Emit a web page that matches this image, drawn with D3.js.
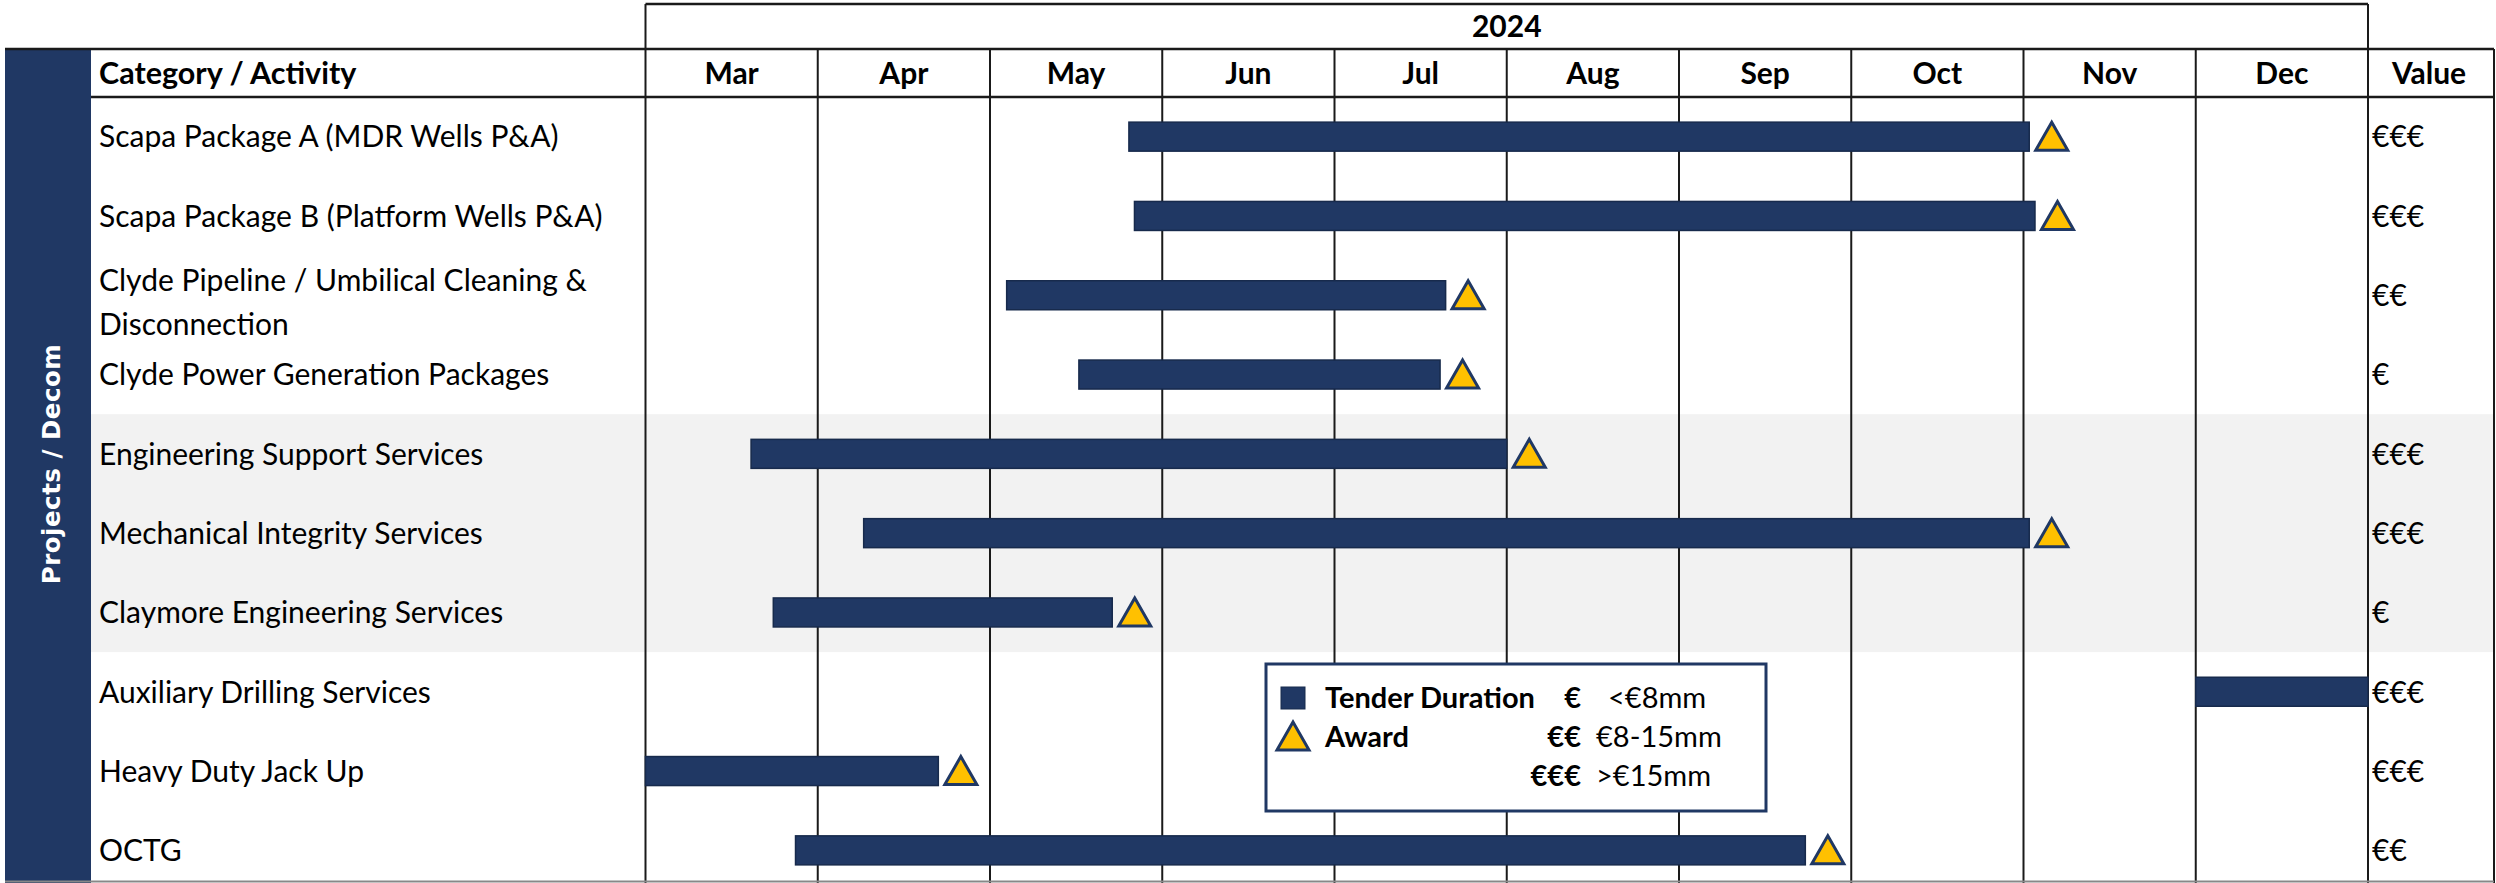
<!DOCTYPE html>
<html>
<head>
<meta charset="utf-8">
<style>
  body { margin: 0; background: #fff; }
  text { font-family: Lato, "Open Sans", sans-serif; fill: #000; }
</style>
</head>
<body>
<svg width="2496" height="883"></svg>
<script src="https://d3js.org/d3.v7.min.js"></script>
<script>

    // chart data
    var activities = [
        ["Scapa Package A (MDR Wells P&A)"],
        ["Scapa Package B (Platform Wells P&A)"],
        ["Clyde Pipeline / Umbilical Cleaning &", "Disconnection"],
        ["Clyde Power Generation Packages"],
        ["Engineering Support Services"],
        ["Mechanical Integrity Services"],
        ["Claymore Engineering Services"],
        ["Auxiliary Drilling Services"],
        ["Heavy Duty Jack Up"],
        ["OCTG"]
    ];
    var tenderStart = ["2024-05-26", "2024-05-27", "2024-05-04", "2024-05-17", "2024-03-20",
                       "2024-04-09", "2024-03-24", "2024-12-01", "2024-03-01", "2024-03-28"];
    var tenderEnd   = ["2024-11-02", "2024-11-03", "2024-07-21", "2024-07-20", "2024-08-01",
                       "2024-11-02", "2024-05-23", "2025-01-01", "2024-04-22", "2024-09-23"];
    var hasAward    = [true, true, true, true, true, true, true, false, true, true];
    var values      = ["€€€", "€€€", "€€", "€", "€€€", "€€€", "€", "€€€", "€€€", "€€"];
    var months      = ["Mar", "Apr", "May", "Jun", "Jul", "Aug", "Sep", "Oct", "Nov", "Dec"];
    var year        = "2024";
    var groupName   = "Projects / Decom";
    var shadedRows  = [4, 5, 6];
    var legendKeys  = ["Tender Duration", "Award"];
    var valueBands  = ["€", "€€", "€€€"];
    var valueRanges = ["<€8mm", "€8-15mm", ">€15mm"];

    var navy = "#203864", gold = "#FFC000", line = "#1a1a1a";
    var fs = "30px";

    var svg = d3.select("svg"),
        W = +svg.attr("width"),
        H = +svg.attr("height");

    var parse = d3.timeParse("%Y-%m-%d"),
        origin = new Date(2024, 2, 1);

    // months since 1 Mar, equal-width month columns like the spreadsheet
    function monthPos(s) {
        var d = parse(s),
            m0 = d3.timeMonth.floor(d),
            m1 = d3.timeMonth.offset(m0, 1);
        return d3.timeMonth.count(origin, m0) + (d - m0) / (m1 - m0);
    }

    var x = d3.scaleLinear().domain([0, months.length]).range([645.5, 2368]);
    var y = d3.scaleBand().domain(d3.range(activities.length)).range([97, 890]);

    var left = 5, bandRight = 91, right = 2494,
        yearTop = 4, headTop = 49, headBottom = 97;

    // shaded rows
    svg.append("rect")
        .attr("x", bandRight).attr("y", y(shadedRows[0]))
        .attr("width", right - bandRight)
        .attr("height", y.step() * shadedRows.length)
        .attr("fill", "#f2f2f2");

    // group band
    svg.append("rect")
        .attr("x", left).attr("y", headTop)
        .attr("width", bandRight - left).attr("height", H - headTop)
        .attr("fill", navy);

    svg.append("text")
        .attr("transform", "translate(" + ((left + bandRight) / 2 + 3) + "," + 464 + ") rotate(-90)")
        .attr("text-anchor", "middle")
        .attr("dy", "0.36em")
        .style("font-family", "'DejaVu Sans', Verdana, sans-serif")
        .style("font-weight", "bold")
        .style("font-size", "24.5px")
        .style("letter-spacing", "0.5px")
        .style("fill", "#fff")
        .text(groupName);

    // grid
    var grid = svg.append("g").attr("stroke", line).attr("stroke-width", 2);

    grid.selectAll(".vline")
        .data(d3.range(months.length + 1))
        .enter().append("line")
        .attr("x1", function(d) { return x(d); })
        .attr("x2", function(d) { return x(d); })
        .attr("y1", function(d) { return (d === 0 || d === months.length) ? yearTop : headTop; })
        .attr("y2", H);

    grid.append("line").attr("x1", right).attr("x2", right).attr("y1", headTop).attr("y2", H);

    grid.append("line").attr("x1", x(0)).attr("x2", x(months.length))
        .attr("y1", yearTop).attr("y2", yearTop).attr("stroke-width", 2.5);
    grid.append("line").attr("x1", left).attr("x2", right)
        .attr("y1", headTop).attr("y2", headTop).attr("stroke-width", 2.5);
    grid.append("line").attr("x1", bandRight).attr("x2", right)
        .attr("y1", headBottom).attr("y2", headBottom).attr("stroke-width", 2.5);
    grid.append("line").attr("x1", left).attr("x2", right)
        .attr("y1", H - 1.5).attr("y2", H - 1.5).attr("stroke", "#888").attr("stroke-width", 2);

    // headers
    svg.append("text")
        .attr("x", (x(0) + x(months.length)) / 2).attr("y", (yearTop + headTop) / 2)
        .attr("dy", "0.36em").attr("text-anchor", "middle")
        .style("font-weight", "bold").style("font-size", fs)
        .text(year);

    svg.append("text")
        .attr("x", 99).attr("y", (headTop + headBottom) / 2)
        .attr("dy", "0.36em")
        .style("font-weight", "bold").style("font-size", "30.5px")
        .text("Category / Activity");

    svg.selectAll(".month")
        .data(months)
        .enter().append("text")
        .attr("x", function(d, i) { return x(i + 0.5); })
        .attr("y", (headTop + headBottom) / 2)
        .attr("dy", "0.36em").attr("text-anchor", "middle")
        .style("font-weight", "bold").style("font-size", fs)
        .text(function(d) { return d; });

    svg.append("text")
        .attr("x", (x(months.length) + right) / 2 - 2).attr("y", (headTop + headBottom) / 2)
        .attr("dy", "0.36em").attr("text-anchor", "middle")
        .style("font-weight", "bold").style("font-size", fs)
        .text("Value");

    // row labels
    var labels = svg.selectAll(".label")
        .data(activities)
        .enter().append("text")
        .attr("x", 99)
        .attr("y", function(d, i) { return y(i) + y.bandwidth() / 2; })
        .style("font-size", fs);

    labels.selectAll("tspan")
        .data(function(d) { return d; })
        .enter().append("tspan")
        .attr("x", 99)
        .attr("dy", function(d, j, nodes) {
            var n = nodes.length;
            return j === 0 ? (0.36 - (n - 1) * 0.5) + "em" : "1.45em";
        })
        .text(function(d) { return d; });

    // values
    svg.selectAll(".value")
        .data(values)
        .enter().append("text")
        .attr("x", x(months.length) + 4)
        .attr("y", function(d, i) { return y(i) + y.bandwidth() / 2; })
        .attr("dy", "0.36em")
        .style("font-size", fs)
        .text(function(d) { return d; });

    // tender bars
    var barH = 29;
    svg.selectAll(".bar")
        .data(activities)
        .enter().append("rect")
        .attr("x", function(d, i) { return x(monthPos(tenderStart[i])); })
        .attr("y", function(d, i) { return y(i) + y.bandwidth() / 2 - barH / 2; })
        .attr("width", function(d, i) { return x(monthPos(tenderEnd[i])) - x(monthPos(tenderStart[i])); })
        .attr("height", barH)
        .attr("fill", navy)
        .attr("stroke", "#172a4c")
        .attr("stroke-width", 1.5);

    // award markers
    function tri(cx, bottom) {
        return "M" + (cx - 16) + "," + bottom + "L" + cx + "," + (bottom - 28) + "L" + (cx + 16) + "," + bottom + "Z";
    }

    svg.selectAll(".award")
        .data(d3.range(activities.length).filter(function(i) { return hasAward[i]; }))
        .enter().append("path")
        .attr("d", function(i) {
            return tri(x(monthPos(tenderEnd[i])) + 22.5, y(i) + y.bandwidth() / 2 + barH / 2 - 1);
        })
        .attr("fill", gold)
        .attr("stroke", navy)
        .attr("stroke-width", 3)
        .attr("stroke-linejoin", "miter");

    // legend
    var lg = svg.append("g").attr("transform", "translate(1266,664)");
    lg.append("rect")
        .attr("width", 500).attr("height", 147)
        .attr("fill", "#fff").attr("stroke", navy).attr("stroke-width", 3);

    lg.append("rect")
        .attr("x", 15).attr("y", 23).attr("width", 24).attr("height", 22)
        .attr("fill", navy).attr("stroke", "#172a4c");
    lg.append("path")
        .attr("d", tri(27, 86))
        .attr("fill", gold).attr("stroke", navy).attr("stroke-width", 3);

    lg.selectAll(".key")
        .data(legendKeys)
        .enter().append("text")
        .attr("x", 59)
        .attr("y", function(d, i) { return 34 + i * 39; })
        .attr("dy", "0.36em")
        .style("font-weight", "bold").style("font-size", "29px")
        .text(function(d) { return d; });

    lg.selectAll(".band")
        .data(valueBands)
        .enter().append("text")
        .attr("x", 315)
        .attr("y", function(d, i) { return 34 + i * 39; })
        .attr("dy", "0.36em").attr("text-anchor", "end")
        .style("font-weight", "bold").style("font-size", "29px")
        .text(function(d) { return d; });

    lg.selectAll(".range")
        .data(valueRanges)
        .enter().append("text")
        .attr("x", function(d, i) { return i === 0 ? 342 : 330; })
        .attr("y", function(d, i) { return 34 + i * 39; })
        .attr("dy", "0.36em")
        .style("font-size", "29px")
        .text(function(d) { return d; });

</script>
</body>
</html>
